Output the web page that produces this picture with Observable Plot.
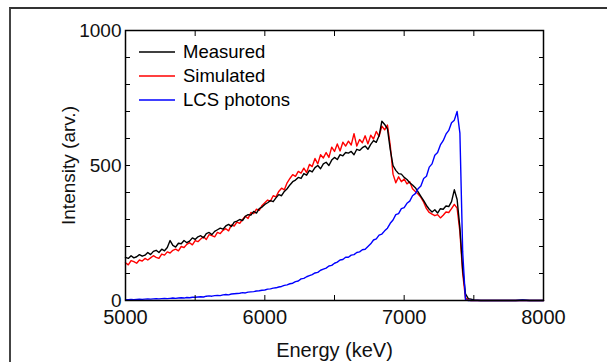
<!DOCTYPE html>
<html>
<head>
<meta charset="utf-8">
<script src="https://cdn.jsdelivr.net/npm/d3@7"></script>
<script src="https://cdn.jsdelivr.net/npm/@observablehq/plot@0.6"></script>
<style>
  html, body { margin: 0; padding: 0; background: #fff; }
  #wrap { position: relative; width: 607px; height: 362px; overflow: hidden; font-family: "Liberation Sans", Arial, sans-serif; }
  #border { position: absolute; left: 9px; top: 7px; width: 620px; height: 400px; border-top: 2px solid #333; border-left: 2px solid #444; box-sizing: border-box; pointer-events: none; }
  #legend { position: absolute; left: 139px; top: 40px; font-size: 18.5px; color: #000; }
  #legend .row { display: flex; align-items: center; height: 24px; }
  #legend svg { margin-right: 8px; }
</style>
</head>
<body>
<div id="wrap"><div id="border"></div><div id="legend"></div></div>
<script>
const energies = [
5000,5020,5040,5060,5080,5100,5120,5140,5160,5180,5200,5220,5240,5260,5280,5300,5320,5340,5360,5380,
5400,5420,5440,5460,5480,5500,5520,5540,5560,5580,5600,5620,5640,5660,5680,5700,5720,5740,5760,5780,
5800,5820,5840,5860,5880,5900,5920,5940,5960,5980,6000,6020,6040,6060,6080,6100,6120,6140,6160,6180,
6200,6220,6240,6260,6280,6300,6320,6340,6360,6380,6400,6420,6440,6460,6480,6500,6520,6540,6560,6580,
6600,6620,6640,6660,6680,6700,6720,6740,6760,6780,6800,6820,6840,6860,6880,6900,6920,6940,6960,6980,
7000,7020,7040,7060,7080,7100,7120,7140,7160,7180,7200,7220,7240,7260,7280,7300,7320,7340,7360,7380,
7400,7420,7440,7460,7480,7500,7550,7600,7650,7700,7750,7800,7850,7900,7950,8000];

const measured = [
160,156,166,158,162,170,164,168,178,170,182,186,178,190,184,196,222,204,198,212,
210,222,214,220,232,226,236,240,232,248,252,244,256,262,268,264,276,282,274,290,
294,300,296,312,318,316,330,324,340,346,356,362,370,366,380,392,388,404,414,428,
440,446,456,452,470,464,482,476,492,500,488,506,512,500,520,530,522,540,536,548,
546,552,540,560,556,566,572,560,578,592,586,610,664,652,636,560,500,482,470,468,
456,448,436,428,418,402,386,370,352,338,328,336,324,340,338,350,348,366,410,374,
270,115,25,7,5,2,0,0,0,0,0,0,2,0,0,0];

const simulated = [
140,132,148,144,138,150,146,156,150,158,166,160,156,172,168,180,176,186,190,184,
200,196,208,214,206,222,218,228,236,226,244,240,236,252,248,260,266,258,280,276,
290,286,300,312,304,326,322,338,334,352,362,372,368,388,384,404,416,410,436,452,
466,460,478,472,490,474,504,496,526,506,540,528,548,530,568,552,580,554,586,572,
590,576,618,572,596,584,610,580,612,598,626,608,646,632,650,575,468,436,458,440,
450,432,440,414,404,394,382,364,340,326,320,314,318,306,316,328,326,340,356,342,
255,100,10,2,0,0,0,0,0,0,0,0,0,0,0,0];

const lcs = [
3,3,4,3,4,5,4,5,6,5,6,7,6,7,8,7,8,9,8,9,
10,9,11,10,12,12,13,14,13,16,17,16,18,19,18,21,22,21,24,25,
26,27,29,28,31,32,33,35,36,38,39,42,43,46,47,50,52,56,58,62,
64,70,72,80,82,88,92,96,102,104,112,116,120,128,130,138,142,150,152,160,
160,168,170,178,180,188,190,200,210,224,228,242,246,258,268,286,298,318,322,340,
344,360,368,388,396,414,424,452,460,494,506,538,548,576,592,616,630,658,668,700,
620,180,3,0,0,0,0,0,0,0,0,0,1,0,0,0];

const seriesNames = ["Measured", "Simulated", "LCS photons"];
const seriesColors = ["#000000", "#ff0000", "#0000ff"];
const xMajor = [5000, 6000, 7000, 8000];
const xAllTicks = [5000, 5500, 6000, 6500, 7000, 7500, 8000];
const yMajor = [0, 500, 1000];
const yAllTicks = [0, 100, 200, 300, 400, 500, 600, 700, 800, 900, 1000];

const rows = [];
const cols = [measured, simulated, lcs];
cols.forEach((vals, s) => vals.forEach((v, i) => rows.push({E: energies[i], I: v, series: seriesNames[s]})));

const drawOrder = ["Simulated", "Measured", "LCS photons"];

const chart = Plot.plot({
  width: 607,
  height: 362,
  marginLeft: 125,
  marginRight: 64,
  marginTop: 30,
  marginBottom: 62,
  style: {fontFamily: "'Liberation Sans', Arial, sans-serif", background: "transparent", overflow: "visible"},
  x: {domain: [5000, 8000]},
  y: {domain: [0, 1000]},
  color: {domain: seriesNames, range: seriesColors},
  marks: [
    ...drawOrder.map(name => Plot.line(rows.filter(d => d.series === name), {x: "E", y: "I", stroke: "series", strokeWidth: 1.4})),
    Plot.axisX({anchor: "bottom", ticks: xAllTicks, tickSize: 5, dy: -5, text: null, label: null}),
    Plot.axisX({anchor: "top", ticks: xAllTicks, tickSize: 5, dy: 5, text: null, label: null}),
    Plot.axisY({anchor: "left", ticks: yAllTicks, tickSize: 5, dx: 5, text: null, label: null}),
    Plot.axisY({anchor: "right", ticks: yAllTicks, tickSize: 5, dx: -5, text: null, label: null}),
    Plot.axisX({anchor: "bottom", ticks: xMajor, tickSize: 0, tickPadding: 9, fontSize: 20, tickFormat: d => String(d), label: "Energy (keV)", labelAnchor: "center", labelArrow: "none", labelOffset: 56, color: "#111"}),
    Plot.axisY({anchor: "left", ticks: yMajor, tickSize: 0, tickPadding: 4, fontSize: 19, tickFormat: d => String(d), label: "Intensity (arv.)", labelAnchor: "center", labelArrow: "none", labelOffset: 64, color: "#111"}),
    Plot.frame({stroke: "#000", strokeWidth: 1.5})
  ]
});
chart.style.position = "absolute";
chart.style.left = "0px";
chart.style.top = "0px";
document.getElementById("wrap").appendChild(chart);

const legend = document.getElementById("legend");
seriesNames.forEach((name, i) => {
  const row = document.createElement("div");
  row.className = "row";
  row.innerHTML = `<svg width="36" height="4"><line x1="0" x2="36" y1="2" y2="2" stroke="${seriesColors[i]}" stroke-width="1.3"/></svg><span>${name}</span>`;
  legend.appendChild(row);
});
</script>
</body>
</html>
